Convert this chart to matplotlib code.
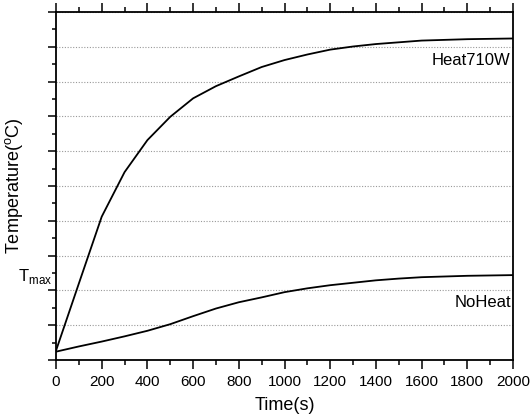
import matplotlib
matplotlib.use('Agg')
import matplotlib.pyplot as plt
import numpy as np
from matplotlib.ticker import MultipleLocator

plt.rcParams['font.family'] = ['Liberation Sans', 'DejaVu Sans']
plt.rcParams['mathtext.fontset'] = 'custom'
plt.rcParams['mathtext.rm'] = 'Liberation Sans'

# time in seconds, temperatures in arbitrary units (no y tick labels in original)
time_s = [0, 100, 200, 300, 400, 500, 600, 700, 800, 900, 1000,
          1100, 1200, 1300, 1400, 1500, 1600, 1700, 1800, 1900, 2000]
heat_710w = [0.27, 2.2, 4.12, 5.4, 6.32, 6.99, 7.52, 7.87, 8.15, 8.42, 8.62,
             8.78, 8.92, 9.01, 9.08, 9.13, 9.18, 9.20, 9.22, 9.23, 9.24]
no_heat = [0.24, 0.39, 0.53, 0.68, 0.84, 1.03, 1.26, 1.48, 1.66, 1.80, 1.95,
           2.06, 2.15, 2.22, 2.29, 2.34, 2.38, 2.40, 2.42, 2.43, 2.44]
xticks = list(range(0, 2001, 200))

fig, ax = plt.subplots(figsize=(5.3, 4.15), dpi=100)
fig.subplots_adjust(left=0.1057, right=0.968, top=0.971, bottom=0.1325)

ax.plot(time_s, heat_710w, color='black', lw=1.3)
ax.plot(time_s, no_heat, color='black', lw=1.3)

ax.set_xlim(0, 2000)
ax.set_ylim(0, 10)
ax.set_xticks(xticks)
ax.xaxis.set_minor_locator(MultipleLocator(100))
ax.yaxis.set_major_locator(MultipleLocator(1))
ax.yaxis.set_minor_locator(MultipleLocator(0.5))
ax.set_yticklabels([])

ax.tick_params(axis='x', which='both', direction='out', top=True, bottom=True,
               labelsize=11, pad=4, width=1.1)
ax.tick_params(axis='x', which='major', length=6.5)
ax.tick_params(axis='x', which='minor', length=3.5)
ax.tick_params(axis='y', which='both', direction='out', left=True, right=False,
               width=1.1)
ax.tick_params(axis='y', which='major', length=6)
ax.tick_params(axis='y', which='minor', length=3)
for s in ax.spines.values():
    s.set_linewidth(1.3)

ax.grid(axis='y', which='major', linestyle=(0, (1, 1.5)), color='#999999', lw=0.8)

ax.set_xlabel('Time(s)', fontsize=13)
ax.set_ylabel('Temperature($^\\mathrm{o}$C)', fontsize=13)
ax.xaxis.set_label_coords(0.5, -0.106)
ax.yaxis.set_label_coords(-0.068, 0.5)

ax.text(1990, 8.62, 'Heat710W', ha='right', va='center', fontsize=12)
ax.text(1990, 1.65, 'NoHeat', ha='right', va='center', fontsize=12)
ax.text(-0.084, 2.41, 'T$_{\\mathrm{max}}$', transform=ax.get_yaxis_transform(),
        ha='left', va='center', fontsize=12)

fig.savefig('out.png', dpi=100)
